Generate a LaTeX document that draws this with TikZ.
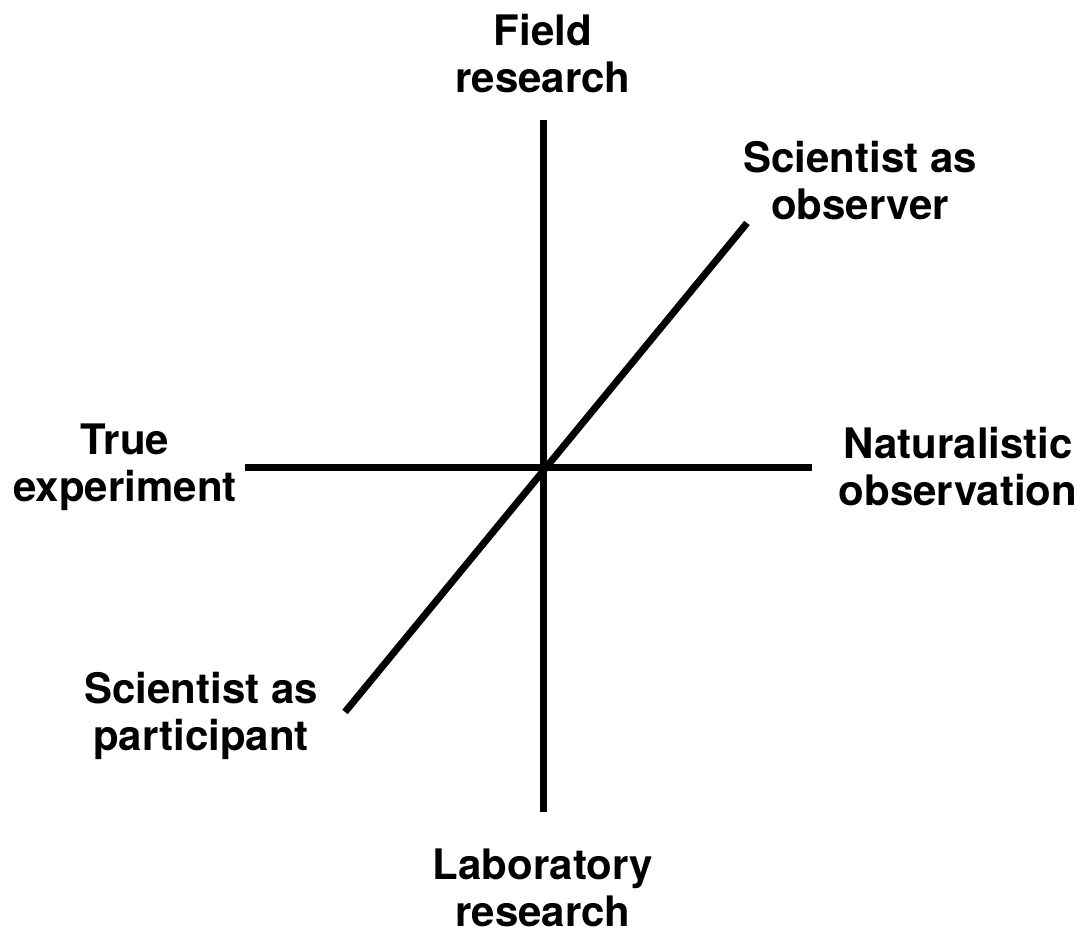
\documentclass[tikz,border=0pt]{standalone}
\usepackage{fontspec}
\setmainfont{TeX Gyre Heros}
\begin{document}
\begin{tikzpicture}[x=1pt,y=-1pt,
  axis/.style={line width=7pt},
  lbl/.style={font=\fontsize{42}{47}\selectfont\bfseries, align=center, inner sep=0pt}]
\useasboundingbox (0,0) rectangle (1087,936);
\coordinate (vt) at (543,120);
\coordinate (vb) at (543,812);
\coordinate (hl) at (245,467);
\coordinate (hr) at (812,467);
\coordinate (dl) at (345,712);
\coordinate (dr) at (747,223);
\draw[axis] (vt) -- (vb);
\draw[axis] (hl) -- (hr);
\draw[axis] (dl) -- (dr);
\node[lbl] (field) at (543,54) {Field\\research};
\node[lbl] (obs) at (860,181) {Scientist as\\observer};
\node[lbl] (true) at (125,467) {True\\experiment};
\node[lbl] (nat) at (958,467) {Naturalistic\\observation};
\node[lbl] (part) at (201,716) {Scientist as\\participant};
\node[lbl] (lab) at (543,888) {Laboratory\\research};
\end{tikzpicture}
\end{document}
